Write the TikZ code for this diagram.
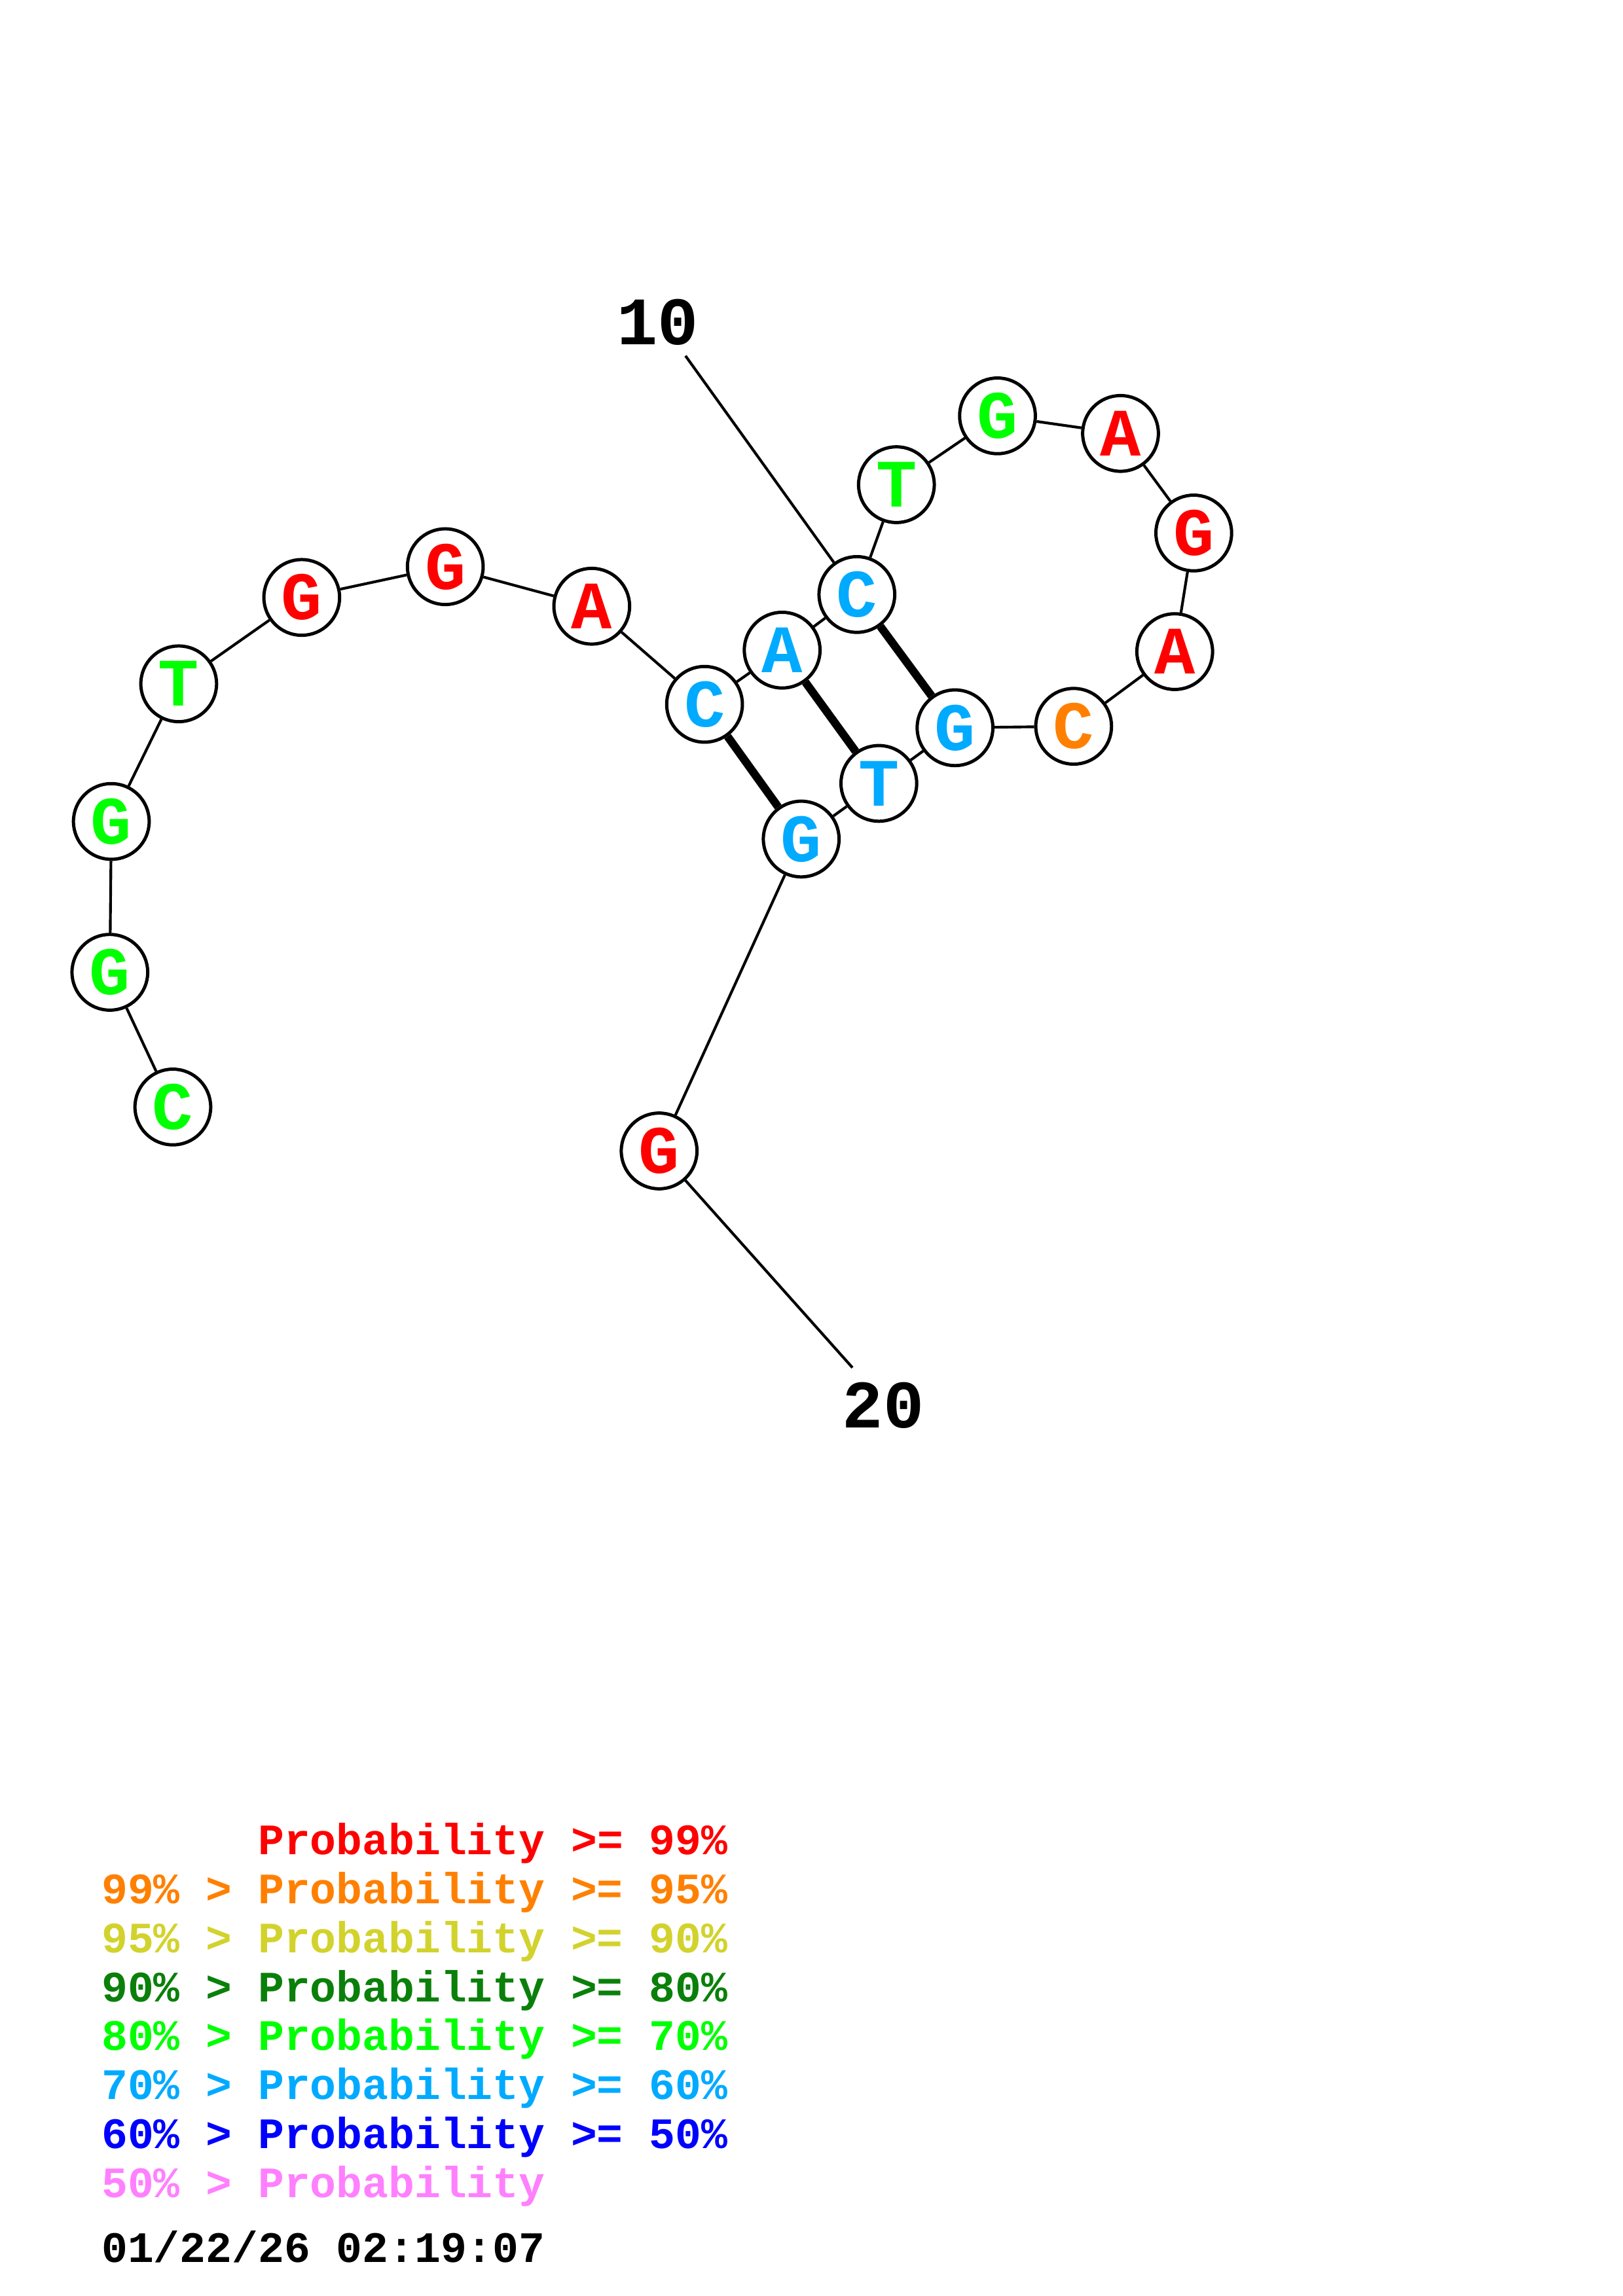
\documentclass[tikz,border=0pt]{standalone}
\usepackage{fontspec}
\setmainfont{Liberation Mono}
\definecolor{pred}{HTML}{FF0000}
\definecolor{porange}{HTML}{FF8000}
\definecolor{pyellow}{HTML}{D2D22D}
\definecolor{pdkgreen}{HTML}{0A800A}
\definecolor{pgreen}{HTML}{00FF00}
\definecolor{pltblue}{HTML}{00AAFF}
\definecolor{pblue}{HTML}{0000FF}
\definecolor{ppink}{HTML}{FF80FF}
\tikzset{
  base/.style={circle,draw,line width=1.2pt,fill=white,minimum size=0.98cm,inner sep=0pt,
    font=\fontsize{25}{25}\selectfont\bfseries},
  bond/.style={line width=1pt},
  pair/.style={line width=3pt},
  numlabel/.style={font=\fontsize{25}{25}\selectfont\bfseries},
  legend/.style={anchor=base west,inner sep=0pt,font=\fontsize{16}{16}\selectfont\bfseries}
}
\begin{document}
\begin{tikzpicture}[x=0.018953cm,y=-0.018953cm]
            \useasboundingbox (0,0) rectangle (1108,1568);
            \node[base,text=pgreen] (n1) at (118,756) {C};
            \node[base,text=pgreen] (n2) at (75,664) {G};
            \node[base,text=pgreen] (n3) at (76,561) {G};
            \node[base,text=pgreen] (n4) at (122,467) {T};
            \node[base,text=pred] (n5) at (206,408) {G};
            \node[base,text=pred] (n6) at (304,387) {G};
            \node[base,text=pred] (n7) at (404,414) {A};
            \node[base,text=pltblue] (n8) at (481,481) {C};
            \node[base,text=pltblue] (n9) at (534,444) {A};
            \node[base,text=pltblue] (n10) at (585,406) {C};
            \node[base,text=pgreen] (n11) at (612,331) {T};
            \node[base,text=pgreen] (n12) at (681,284) {G};
            \node[base,text=pred] (n13) at (765,296) {A};
            \node[base,text=pred] (n14) at (815,364) {G};
            \node[base,text=pred] (n15) at (802,445) {A};
            \node[base,text=porange] (n16) at (733,496) {C};
            \node[base,text=pltblue] (n17) at (652,497) {G};
            \node[base,text=pltblue] (n18) at (600,535) {T};
            \node[base,text=pltblue] (n19) at (547,573) {G};
            \node[base,text=pred] (n20) at (450,786) {G};
            \node[numlabel] (lab10) at (449,220) {10};
            \node[numlabel] (lab20) at (603,960) {20};
            \coordinate (end10) at (468,243);
            \coordinate (end20) at (582,934);
            \draw[bond] (n1) -- (n2) -- (n3) -- (n4) -- (n5) -- (n6) -- (n7) -- (n8) -- (n9) -- (n10);
            \draw[bond] (n10) -- (n11) -- (n12) -- (n13) -- (n14) -- (n15) -- (n16) -- (n17) -- (n18) -- (n19) -- (n20);
            \draw[bond] (n10) -- (end10);
            \draw[bond] (n20) -- (end20);
            \draw[pair] (n8) -- (n19);
            \draw[pair] (n9) -- (n18);
            \draw[pair] (n10) -- (n17);
            \node[legend,text=pred] (leg1) at (69,1266.7) {\phantom{99\% > }Probability >= 99\%};
            \node[legend,text=porange] (leg2) at (69,1300.1) {99\% > Probability >= 95\%};
            \node[legend,text=pyellow] (leg3) at (69,1333.5) {95\% > Probability >= 90\%};
            \node[legend,text=pdkgreen] (leg4) at (69,1366.9) {90\% > Probability >= 80\%};
            \node[legend,text=pgreen] (leg5) at (69,1400.3) {80\% > Probability >= 70\%};
            \node[legend,text=pltblue] (leg6) at (69,1433.7) {70\% > Probability >= 60\%};
            \node[legend,text=pblue] (leg7) at (69,1467.1) {60\% > Probability >= 50\%};
            \node[legend,text=ppink] (leg8) at (69,1500.5) {50\% > Probability};
            \node[legend] (stamp) at (69,1545) {01/22/26 02:19:07};
        \end{tikzpicture}
\end{document}
